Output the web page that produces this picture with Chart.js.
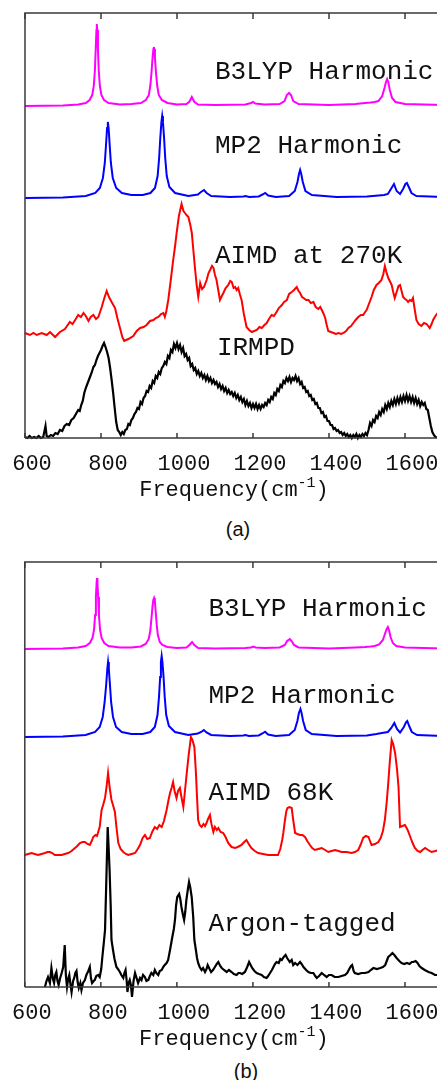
<!DOCTYPE html>
<html>
<head>
<meta charset="utf-8">
<script src="https://cdn.jsdelivr.net/npm/chart.js@4.4.0/dist/chart.umd.min.js"></script>
<style>
  html, body { margin: 0; padding: 0; background: #fff; overflow: hidden; width: 437px; height: 1080px; }
  .panel { position: absolute; left: 0; width: 446px; height: 505px; }
  #panelA { top: 0; }
  #panelB { top: 549px; }
  .cap { position: absolute; font-family: "Liberation Sans", Arial, sans-serif; font-size: 20px; color: #111;
         transform: translate(-50%, -50%); line-height: 1; }
</style>
</head>
<body>
<div class="panel" id="panelA"><canvas id="chartA" width="446" height="505"></canvas></div>
<div class="panel" id="panelB"><canvas id="chartB" width="446" height="505"></canvas></div>
<div class="cap" style="left:238px; top:529px">(a)</div>
<div class="cap" style="left:246px; top:1071px">(b)</div>
<script>
// x tick values (cm-1)
const xTicks = [600, 800, 1000, 1200, 1400, 1600];

// ---- panel (a) : stacked intensities [frequency, value] ----
const b3lypA = [[600,332],[700,332.5],[740,333.5],[760,335],[770,338],[777,343],[781,352],[784,368],[786,388],[788,408],[789,414],[790,408],[792,388],[794,368],[797,352],[801,343],[808,338],[820,335],[850,333.5],[880,334],[905,335],[918,338],[926,343],[930,353],[933,366],[936,382],[938,389],[939,391],[940,389],[942,380],[945,364],[948,352],[952,343],[960,338],[975,335],[1000,333.5],[1025,334],[1033,336.5],[1039,341],[1045,336.5],[1055,333.5],[1100,333],[1180,333.5],[1195,335],[1200,336],[1206,334.5],[1230,333.5],[1270,334],[1283,337],[1289,343],[1295,345],[1300,343],[1306,337],[1320,334],[1400,333],[1470,334],[1495,335],[1510,335.5],[1520,336],[1530,337],[1540,342],[1546,350],[1550,356],[1553,359],[1556,356],[1560,348],[1566,340],[1575,336],[1600,334],[1700,333]];

const mp2A = [[600,240],[700,240.5],[760,242],[785,245],[797,250],[805,260],[810,275],[813,292],[816,310],[818,316],[820,310],[823,292],[826,275],[831,260],[840,250],[855,245],[880,243],[910,243],[930,245],[942,250],[949,262],[953,280],[956,300],[959,316],[961,322],[963,316],[966,300],[969,280],[973,262],[980,251],[995,245],[1030,242],[1055,243.5],[1063,246],[1071,248],[1078,245],[1090,242],[1140,241],[1175,241.5],[1180,242],[1190,241],[1215,241.5],[1225,243.5],[1232,245],[1240,242.5],[1260,241],[1295,242],[1310,247],[1317,256],[1321,264],[1324,268],[1327,264],[1331,256],[1338,247],[1355,243],[1420,241],[1500,241.5],[1530,242.5],[1545,243],[1555,244],[1563,249],[1571,254],[1578,247],[1587,244],[1595,249],[1601,254],[1605,255],[1610,251],[1617,245],[1630,242],[1700,241]];

const aimd270 = [[600,105],[613,103],[622,105],[631,103],[644,105],[657,103],[666,106],[679,101],[692,106],[705,109],[718,116],[725,114],[732,118],[740,123],[747,121],[754,125],[760,122],[767,117],[773,121],[780,123],[787,119],[793,121],[802,131],[808,139],[815,147],[821,141],[828,136],[837,130],[843,120],[850,110],[856,101],[861,97],[872,99],[885,102],[894,107],[903,110],[912,111],[920,113],[929,117],[938,118],[944,120],[951,121],[958,124],[964,125],[968,121],[972,127],[977,138],[983,156],[990,178],[995,192],[999,205],[1005,222],[1012,234],[1017,227],[1021,225],[1025,223],[1030,221],[1035,213],[1039,205],[1043,188],[1047,171],[1052,152],[1056,141],[1061,155],[1066,149],[1071,151],[1075,155],[1078,158],[1083,165],[1087,168],[1092,172],[1096,170],[1100,163],[1104,158],[1109,147],[1113,138],[1118,142],[1122,145],[1128,150],[1135,153],[1140,157],[1144,156],[1149,150],[1153,151],[1157,148],[1161,150],[1166,143],[1170,138],[1176,124],[1183,111],[1190,108],[1197,106],[1203,107],[1210,108],[1217,111],[1223,110],[1230,113],[1236,115],[1242,119],[1249,123],[1255,122],[1262,126],[1268,130],[1276,133],[1282,136],[1289,138],[1295,144],[1302,146],[1308,148],[1315,151],[1320,147],[1324,145],[1329,141],[1333,140],[1340,138],[1346,138],[1352,135],[1359,136],[1365,131],[1372,129],[1377,131],[1381,128],[1386,124],[1390,120],[1394,113],[1398,107],[1405,106],[1412,105],[1418,104],[1425,105],[1432,104],[1438,105],[1445,107],[1451,110],[1458,112],[1464,115],[1470,118],[1477,121],[1484,123],[1490,123],[1495,126],[1499,128],[1505,134],[1512,141],[1518,148],[1525,153],[1531,155],[1538,158],[1543,164],[1547,172],[1551,166],[1556,160],[1560,157],[1565,153],[1569,146],[1573,140],[1578,146],[1583,152],[1587,153],[1591,147],[1595,141],[1600,139],[1604,138],[1608,136],[1613,138],[1617,137],[1621,140],[1625,130],[1630,118],[1636,114],[1643,112],[1650,115],[1657,114],[1661,112],[1665,110],[1670,114],[1674,118],[1680,122],[1686,125],[1700,128]];

const irmpd = [[600,1],[606,0],[612,2],[618,0],[624,1],[630,0],[636,2],[642,0],[648,1],[654,12],[657,2],[662,1],[668,3],[674,2],[680,5],[686,4],[692,8],[698,7],[704,12],[710,14],[716,13],[722,18],[728,20],[734,24],[740,28],[744,27],[748,33],[752,37],[756,45],[760,50],[764,54],[768,58],[772,62],[776,66],[780,71],[784,73],[788,78],[792,82],[796,85],[800,88],[804,92],[808,95],[812,91],[816,86],[820,80],[824,70],[828,58],[832,45],[836,30],[840,16],[844,8],[848,6],[852,3],[856,6],[860,4],[864,8],[868,9],[872,14],[876,13],[880,18],[884,20],[888,24],[892,26],[896,30],[900,29],[904,36],[908,34],[912,40],[916,42],[920,47],[924,46],[928,52],[932,50],[936,57],[940,55],[944,62],[948,60],[952,66],[956,64],[960,70],[964,72],[968,76],[972,74],[976,82],[980,80],[984,88],[988,86],[992,94],[996,90],[1000,95],[1004,89],[1008,93],[1012,86],[1016,90],[1020,82],[1024,84],[1028,78],[1032,80],[1036,72],[1040,74],[1044,68],[1048,70],[1052,64],[1056,67],[1060,62],[1064,65],[1068,60],[1072,63],[1076,58],[1080,62],[1084,57],[1088,60],[1092,55],[1096,58],[1100,54],[1104,56],[1108,51],[1112,54],[1116,49],[1120,52],[1124,47],[1128,50],[1132,45],[1136,48],[1140,44],[1144,46],[1148,42],[1152,45],[1156,40],[1160,43],[1164,38],[1168,41],[1172,36],[1176,39],[1180,33],[1184,37],[1188,32],[1192,35],[1196,30],[1200,34],[1204,30],[1208,34],[1212,29],[1216,33],[1220,29],[1224,33],[1228,31],[1232,35],[1236,33],[1240,38],[1244,36],[1248,41],[1252,39],[1256,45],[1260,43],[1264,49],[1268,47],[1272,53],[1276,51],[1280,57],[1284,55],[1288,60],[1292,57],[1296,61],[1300,56],[1304,60],[1308,58],[1312,62],[1316,57],[1320,60],[1324,54],[1328,56],[1332,50],[1336,51],[1340,46],[1344,47],[1348,42],[1352,43],[1356,38],[1360,39],[1364,34],[1368,35],[1372,30],[1376,30],[1380,25],[1384,26],[1388,21],[1392,22],[1396,17],[1400,17],[1404,13],[1408,13],[1412,9],[1416,10],[1420,7],[1424,8],[1428,5],[1432,6],[1436,3],[1440,5],[1444,2],[1448,4],[1452,1],[1456,3],[1460,0],[1464,3],[1468,1],[1472,4],[1476,0],[1480,3],[1484,1],[1488,4],[1492,2],[1496,5],[1500,3],[1504,8],[1508,15],[1512,12],[1516,18],[1520,16],[1524,22],[1528,20],[1532,26],[1536,23],[1540,29],[1544,26],[1548,33],[1552,29],[1556,35],[1560,31],[1564,37],[1568,33],[1572,39],[1576,34],[1580,40],[1584,35],[1588,41],[1592,36],[1596,42],[1600,37],[1604,43],[1608,37],[1612,42],[1616,36],[1620,41],[1624,35],[1628,40],[1632,34],[1636,38],[1640,32],[1644,36],[1648,33],[1652,35],[1656,29],[1660,28],[1664,20],[1668,12],[1672,6],[1676,3],[1680,1],[1700,0]];

// ---- panel (b) ----
const b3lypB = [[600,338],[700,338.5],[740,339.5],[760,341],[771,344],[778,349],[782,357],[785,372],[787,390],[789,405],[790,409],[791,405],[793,390],[795,372],[798,357],[802,349],[809,344],[820,341],[850,339.5],[880,339.5],[905,340.5],[918,343],[926,348],[930,356],[933,368],[936,381],[938,387],[940,389],[942,386],[944,377],[947,362],[950,352],[955,345],[962,342],[975,340],[1000,339],[1025,339.5],[1033,342],[1040,345],[1046,342],[1056,339],[1100,338.5],[1180,339],[1195,339.5],[1201,340.5],[1207,339.5],[1230,339],[1270,339.5],[1284,342],[1290,346],[1297,348],[1302,346],[1308,342],[1320,339.5],[1400,338.5],[1470,339.5],[1495,340],[1510,340.5],[1520,341],[1532,342.5],[1542,347],[1548,354],[1552,358],[1555,360],[1558,357],[1562,350],[1568,344],[1577,341],[1600,339.5],[1700,338.5]];

const mp2B = [[600,250],[700,250.5],[760,252],[785,255],[797,260],[805,270],[810,285],[814,302],[817,318],[819,325],[821,318],[824,302],[827,285],[832,270],[840,260],[855,255],[880,253],[910,253],[930,255],[942,260],[949,272],[953,290],[956,310],[958,325],[960,331],[962,325],[965,310],[968,290],[972,272],[979,261],[995,255],[1030,252],[1055,253.5],[1064,255],[1071,257],[1078,254.5],[1090,252],[1140,251],[1175,251.5],[1180,252],[1190,251],[1215,251.5],[1225,253.5],[1232,255.3],[1240,252.5],[1260,251],[1295,252],[1310,257],[1317,266],[1321,274],[1325,278],[1328,274],[1332,266],[1339,257],[1355,253],[1420,251],[1500,251.5],[1525,253],[1539,254],[1555,255],[1564,259],[1572,264],[1579,258],[1587,254.5],[1597,260],[1603,265],[1606,266],[1611,261],[1618,255],[1632,252],[1700,251]];

const aimd68 = [[600,132],[609,133],[618,134],[626,133],[635,132],[644,133],[653,134],[660,135],[666,135],[672,134],[679,132],[688,132],[697,132],[705,133],[714,134],[723,136],[732,139],[738,141],[745,144],[752,145],[758,145],[765,143],[771,142],[776,146],[780,150],[786,152],[790,151],[793,155],[797,160],[802,177],[806,182],[811,189],[815,200],[819,214],[823,200],[828,187],[832,182],[837,175],[841,160],[846,144],[852,138],[859,135],[866,133],[872,132],[881,133],[890,134],[897,138],[903,142],[910,149],[916,152],[922,148],[929,149],[935,155],[942,160],[948,158],[954,162],[960,160],[966,166],[973,177],[978,187],[982,194],[986,199],[990,205],[994,196],[999,189],[1003,196],[1008,199],[1012,190],[1017,180],[1021,195],[1026,214],[1031,232],[1037,250],[1041,247],[1046,240],[1050,215],[1053,190],[1056,167],[1060,162],[1065,160],[1070,163],[1074,161],[1078,164],[1082,168],[1087,172],[1091,163],[1096,155],[1100,160],[1105,157],[1109,159],[1115,155],[1122,154],[1128,150],[1135,144],[1144,140],[1153,139],[1160,140],[1170,142],[1177,145],[1183,147],[1189,143],[1196,139],[1205,136],[1214,134],[1227,133],[1240,132],[1253,132],[1266,132],[1272,138],[1277,147],[1280,154],[1284,166],[1288,176],[1291,179],[1296,180],[1302,179],[1306,167],[1311,154],[1317,153],[1324,152],[1330,152],[1337,150],[1343,146],[1350,142],[1356,139],[1363,137],[1372,138],[1381,139],[1390,137],[1398,135],[1407,136],[1416,137],[1425,136],[1433,135],[1446,135],[1460,134],[1468,135],[1477,137],[1483,142],[1490,149],[1497,151],[1504,150],[1508,146],[1512,142],[1521,143],[1530,145],[1536,149],[1542,156],[1547,167],[1552,185],[1556,204],[1560,225],[1565,247],[1569,243],[1574,234],[1579,218],[1583,200],[1587,160],[1593,161],[1600,162],[1607,157],[1614,150],[1620,144],[1626,139],[1633,136],[1640,135],[1646,137],[1653,139],[1661,137],[1670,135],[1680,136],[1689,137],[1700,137]];

const argonTagged = [[653,0],[657,6],[661,10],[666,4],[670,19],[674,8],[677,4],[680,12],[683,15],[686,6],[689,2],[693,9],[697,14],[701,20],[705,42],[708,12],[711,0],[714,8],[717,12],[720,3],[723,-5],[727,6],[730,9],[733,14],[736,16],[739,5],[742,-1],[746,4],[749,-3],[753,4],[758,7],[762,12],[767,16],[771,20],[774,9],[777,4],[781,6],[784,7],[788,11],[793,12],[797,10],[801,18],[804,30],[808,45],[811,57],[814,100],[818,160],[821,135],[823,117],[826,80],[828,47],[832,37],[836,28],[841,20],[845,18],[850,15],[854,12],[859,9],[862,14],[865,17],[868,6],[870,-5],[873,4],[876,7],[879,2],[882,-10],[886,6],[890,14],[894,9],[898,4],[903,9],[907,7],[911,12],[916,10],[920,6],[925,7],[929,11],[933,14],[938,12],[942,17],[946,14],[951,12],[955,16],[960,17],[964,20],[968,22],[973,24],[977,27],[982,37],[988,50],[992,58],[995,67],[998,82],[1001,90],[1006,93],[1009,88],[1012,80],[1016,72],[1019,67],[1022,75],[1025,87],[1029,98],[1032,105],[1035,100],[1039,90],[1043,70],[1046,47],[1050,37],[1053,29],[1056,24],[1060,20],[1065,17],[1069,19],[1074,15],[1078,18],[1081,22],[1086,18],[1090,15],[1095,17],[1100,20],[1105,23],[1109,25],[1114,21],[1118,19],[1124,17],[1131,15],[1137,17],[1144,15],[1150,13],[1157,12],[1162,14],[1166,14],[1172,13],[1179,15],[1185,20],[1190,25],[1194,22],[1198,19],[1204,16],[1210,14],[1216,13],[1223,12],[1229,10],[1236,9],[1240,11],[1245,14],[1250,17],[1254,20],[1258,23],[1262,25],[1268,24],[1272,28],[1276,27],[1281,30],[1286,32],[1290,29],[1297,25],[1302,27],[1306,22],[1311,24],[1317,22],[1324,25],[1328,23],[1333,20],[1340,17],[1346,15],[1352,14],[1359,14],[1364,11],[1368,9],[1374,11],[1381,14],[1387,12],[1394,10],[1400,12],[1407,12],[1415,10],[1425,10],[1433,11],[1442,12],[1448,14],[1452,17],[1455,19],[1458,21],[1461,22],[1465,16],[1468,14],[1477,13],[1486,14],[1495,14],[1504,15],[1510,17],[1517,19],[1526,18],[1535,19],[1542,20],[1548,22],[1552,26],[1556,30],[1562,32],[1567,34],[1572,32],[1578,29],[1585,26],[1591,24],[1598,23],[1605,24],[1612,23],[1618,25],[1622,25],[1628,26],[1633,24],[1638,21],[1644,19],[1652,17],[1662,15],[1670,14],[1679,12],[1689,12],[1700,11]];

// trace names, anchored at [frequency, value]
const labelsA = [['B3LYP Harmonic', 1100, 359], ['MP2 Harmonic', 1100, 285], ['AIMD at 270K', 1100, 175], ['IRMPD', 1105, 83]];
const labelsB = [['B3LYP Harmonic', 1083, 371], ['MP2 Harmonic', 1083, 284], ['AIMD 68K', 1083, 187], ['Argon-tagged', 1083, 56]];

const MONO = '"Liberation Mono", "Courier New", monospace';

const panelPlugin = {
  id: 'panelDecor',
  afterDatasetsDraw(chart, args, opts) {
    const ctx = chart.ctx, a = chart.chartArea;
    const xs = chart.scales.x, ys = chart.scales.y;
    ctx.save();
    // frame: left, top, bottom
    ctx.strokeStyle = '#3a3a3a';
    ctx.lineWidth = 1.5;
    ctx.beginPath();
    ctx.moveTo(a.left, a.bottom); ctx.lineTo(a.left, a.top); ctx.lineTo(a.right, a.top);
    ctx.moveTo(a.left, a.bottom); ctx.lineTo(a.right, a.bottom);
    ctx.stroke();
    // inward tick marks on top and bottom
    ctx.beginPath();
    xTicks.forEach(v => {
      const px = xs.getPixelForValue(v);
      ctx.moveTo(px, a.bottom); ctx.lineTo(px, a.bottom - 5);
      ctx.moveTo(px, a.top); ctx.lineTo(px, a.top + 6);
    });
    ctx.stroke();
    // trace names
    ctx.fillStyle = '#111';
    ctx.font = '26px ' + MONO;
    ctx.textBaseline = 'alphabetic';
    ctx.textAlign = 'left';
    opts.labels.forEach(l => ctx.fillText(l[0], xs.getPixelForValue(l[1]), ys.getPixelForValue(l[2])));
    // axis title with superscript
    const main = 'Frequency(cm', sup = '-1', close = ')';
    ctx.font = '22px ' + MONO;
    const w1 = ctx.measureText(main).width, w3 = ctx.measureText(close).width;
    ctx.font = '15px ' + MONO;
    const w2 = ctx.measureText(sup).width;
    let x = (a.left + a.right) / 2 - (w1 + w2 + w3) / 2;
    const y = a.bottom + 58;
    ctx.font = '22px ' + MONO;
    ctx.fillText(main, x, y); x += w1;
    ctx.font = '15px ' + MONO;
    ctx.fillText(sup, x, y - 9); x += w2;
    ctx.font = '22px ' + MONO;
    ctx.fillText(close, x, y);
    ctx.restore();
  }
};

function series(points, color, width) {
  return {
    data: points.map(p => ({ x: p[0], y: p[1] })),
    borderColor: color,
    borderWidth: width,
    pointRadius: 0,
    tension: 0,
    fill: false,
    clip: false
  };
}

function makePanel(id, datasets, labels, padLeft) {
  return new Chart(document.getElementById(id), {
    type: 'line',
    data: { datasets: datasets },
    options: {
      responsive: false,
      animation: false,
      layout: { padding: { left: padLeft, top: 13, right: 3, bottom: 0 } },
      plugins: {
        legend: { display: false },
        tooltip: { enabled: false },
        panelDecor: { labels: labels }
      },
      scales: {
        x: {
          type: 'linear', min: 600, max: 1700, position: 'bottom',
          afterFit: s => { s.height = 67; },
          grid: { display: false },
          border: { display: false },
          ticks: {
            stepSize: 200, includeBounds: false, autoSkip: false, maxRotation: 0,
            padding: 5, labelOffset: 7, color: '#111',
            font: { family: MONO, size: 22 },
            callback: v => String(v)
          }
        },
        y: { display: false, min: 0, max: 425 }
      }
    },
    plugins: [panelPlugin]
  });
}

makePanel('chartA', [
  series(b3lypA, '#ff00ff', 2),
  series(mp2A, '#0000ff', 2),
  series(aimd270, '#ff0000', 2),
  series(irmpd, '#000000', 2.2)
], labelsA, 25);

makePanel('chartB', [
  series(b3lypB, '#ff00ff', 2),
  series(mp2B, '#0000ff', 2),
  series(aimd68, '#ff0000', 2),
  series(argonTagged, '#000000', 2.2)
], labelsB, 23);
</script>
</body>
</html>
